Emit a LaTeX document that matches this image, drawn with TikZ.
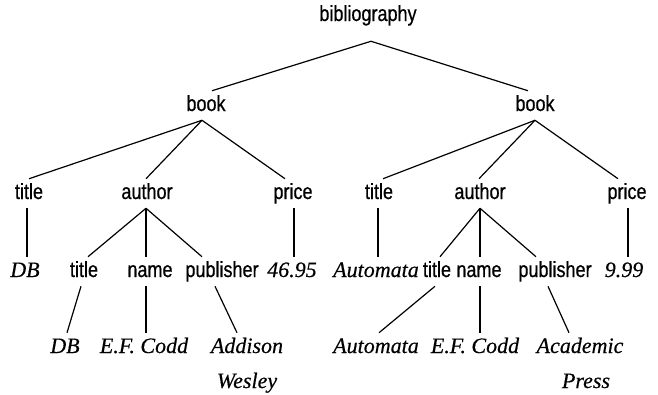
\documentclass[tikz,border=0pt]{standalone}
\usepackage{fontspec}
\newfontfamily\labfont[FakeStretch=0.82,FakeBold=0.6]{Liberation Sans}
\newfontfamily\valfont[FakeBold=0.4]{Liberation Serif}
\begin{document}
\begin{tikzpicture}[x=0.75pt,y=-0.75pt,
  every node/.style={anchor=base,inner xsep=0pt,inner ysep=3pt,
    text height=12pt,text depth=3.75pt},
  tag/.style={font=\labfont\fontsize{16.5}{18}\selectfont},
  val/.style={font=\valfont\itshape\fontsize{16.5}{18}\selectfont},
  edge/.style={line width=0.9pt}]
\useasboundingbox (0,0) rectangle (658,394);

% element names
\node[tag] (bib)   at (368,21)  {bibliography};
\node[tag] (bookA) at (206,111) {book};
\node[tag] (bookB) at (535,111) {book};

\node[tag] (titleA)  at (29,199)  {title};
\node[tag] (authA)   at (147,199) {author};
\node[tag] (priceA)  at (293,199) {price};
\node[tag] (titleB)  at (379,199) {title};
\node[tag] (authB)   at (480,199) {author};
\node[tag] (priceB)  at (627,199) {price};

\node[tag] (atitleA) at (84,277)  {title};
\node[tag] (nameA)   at (150,277) {name};
\node[tag] (pubA)    at (222,277) {publisher};
\node[tag] (atitleB) at (437,277) {title};
\node[tag] (nameB)   at (479,277) {name};
\node[tag] (pubB)    at (555,277) {publisher};

% text values
\node[val] (dbA)    at (25,277)  {DB};
\node[val] (prA)    at (292,277) {46.95};
\node[val] (autB)   at (376,277) {Automata};
\node[val] (prB)    at (624,277) {9.99};

\node[val] (dbA2)   at (65,353)  {DB};
\node[val] (coddA)  at (144,353) {E.F. Codd};
\node[val] (addA)   at (247,353) {Addison};
\node[val] (wesA)   at (247,388) {Wesley};
\node[val] (autB2)  at (376,353) {Automata};
\node[val] (coddB)  at (475,353) {E.F. Codd};
\node[val] (acaB)   at (580,353) {Academic};
\node[val] (preB)   at (586,388) {Press};

% root
\draw[edge] ([shift={(3,11)}]bib.south) -- ([shift={(6,0)}]bookA.north);
\draw[edge] ([shift={(3,11)}]bib.south) -- ([shift={(-7,0)}]bookB.north);

% first book
\draw[edge] ([shift={(-4,0)}]bookA.south) -- (titleA.north);
\draw[edge] ([shift={(-4,0)}]bookA.south) -- ([shift={(-1,0)}]authA.north);
\draw[edge] ([shift={(-4,0)}]bookA.south) -- ([shift={(-8,0)}]priceA.north);
\draw[edge] ([shift={(-2,0)}]titleA.south) -- ([shift={(-2,0)}]titleA.south |- dbA.north);
\draw[edge] ([shift={(-1,0)}]authA.south) -- ([shift={(4,0)}]atitleA.north);
\draw[edge] ([shift={(-1,0)}]authA.south) -- ([shift={(-4,0)}]nameA.north);
\draw[edge] ([shift={(-1,0)}]authA.south) -- ([shift={(-20,0)}]pubA.north);
\draw[edge] ([shift={(1,0)}]priceA.south) -- ([shift={(1,0)}]priceA.south |- prA.north);
\draw[edge] ([shift={(-3,0)}]atitleA.south) -- ([shift={(2,0)}]dbA2.north);
\draw[edge] ([shift={(-4,0)}]nameA.south) -- ([shift={(-4,0)}]nameA.south |- coddA.north);
\draw[edge] ([shift={(-7,0)}]pubA.south) -- ([shift={(-10,0)}]addA.north);

% second book
\draw[edge] (bookB.south) -- ([shift={(4,0)}]titleB.north);
\draw[edge] (bookB.south) -- ([shift={(-1,0)}]authB.north);
\draw[edge] (bookB.south) -- ([shift={(-9,0)}]priceB.north);
\draw[edge] ([shift={(-1,0)}]titleB.south) -- ([shift={(-1,0)}]titleB.south |- autB.north);
\draw[edge] (authB.south) -- ([shift={(3,0)}]atitleB.north);
\draw[edge] (authB.south) -- ([shift={(1,0)}]nameB.north);
\draw[edge] (authB.south) -- ([shift={(-19,0)}]pubB.north);
\draw[edge] ([shift={(1,0)}]priceB.south) -- ([shift={(1,0)}]priceB.south |- prB.north);
\draw[edge] ([shift={(-2,0)}]atitleB.south) -- ([shift={(3,0)}]autB2.north);
\draw[edge] ([shift={(1,0)}]nameB.south) -- ([shift={(1,0)}]nameB.south |- coddB.north);
\draw[edge] ([shift={(-7,0)}]pubB.south) -- ([shift={(-11,0)}]acaB.north);
\end{tikzpicture}
\end{document}
